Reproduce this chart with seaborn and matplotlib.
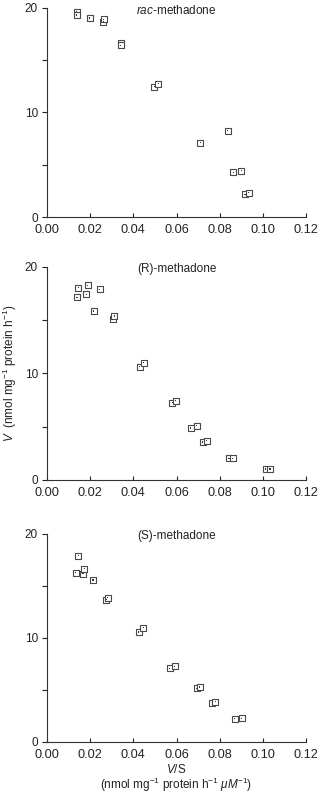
import matplotlib
matplotlib.use("Agg")
import matplotlib.pyplot as plt
import seaborn as sns
import pandas as pd
from matplotlib.ticker import MultipleLocator

sns.set_style("ticks")
plt.rcParams['font.family'] = ['Liberation Sans', 'DejaVu Sans']
plt.rcParams['mathtext.fontset'] = 'custom'
plt.rcParams['mathtext.rm'] = 'Liberation Sans'
plt.rcParams['mathtext.it'] = 'Liberation Sans:italic'

# rac-methadone
rac_vs = [0.0138, 0.0138, 0.0198, 0.0260, 0.0263, 0.0342, 0.0342, 0.0498, 0.0516,
          0.0711, 0.0837, 0.0863, 0.0900, 0.0917, 0.0934]
rac_v = [19.65, 19.33, 19.04, 18.70, 18.90, 16.66, 16.43, 12.48, 12.77,
         7.10, 8.25, 4.27, 4.43, 2.17, 2.32]

# (R)-methadone
r_vs = [0.0139, 0.0145, 0.0182, 0.0189, 0.0216, 0.0244, 0.0305, 0.0312, 0.0430, 0.0448,
        0.0581, 0.0597, 0.0665, 0.0694, 0.0721, 0.0739, 0.0843, 0.0860, 0.1013, 0.1033]
r_v = [17.13, 18.03, 17.41, 18.25, 15.84, 17.88, 15.06, 15.38, 10.63, 11.00,
       7.25, 7.44, 4.88, 5.09, 3.56, 3.69, 2.03, 2.03, 1.03, 1.03]

# (S)-methadone
s_vs = [0.0133, 0.0145, 0.0167, 0.0173, 0.0213, 0.0275, 0.0281, 0.0425, 0.0447,
        0.0569, 0.0591, 0.0693, 0.0707, 0.0765, 0.0779, 0.0869, 0.0903]
s_v = [16.25, 17.90, 16.15, 16.63, 15.55, 13.67, 13.86, 10.56, 10.97,
       7.06, 7.28, 5.15, 5.28, 3.78, 3.88, 2.23, 2.26]

titles = [r"$\it{rac}$-methadone", "(R)-methadone", "(S)-methadone"]
x_ticks = [0.00, 0.02, 0.04, 0.06, 0.08, 0.10, 0.12]
x_tick_labels = ["0.00", "0.02", "0.04", "0.06", "0.08", "0.10", "0.12"]
y_ticks = [0, 10, 20]

fig = plt.figure(figsize=(3.2, 7.93), dpi=100)
W, H = 320, 793
left, right = 47, 306
panels = [(8, 217), (266.7, 480), (533.7, 742)]
datasets = [(rac_vs, rac_v), (r_vs, r_v), (s_vs, s_v)]
TXT = '#222222'

axes = []
for (top, bot), (xs, ys), title in zip(panels, datasets, titles):
    ax = fig.add_axes([left / W, 1 - bot / H, (right - left) / W, (bot - top) / H])
    df = pd.DataFrame({"vs": xs, "v": ys})
    sns.scatterplot(data=df, x="vs", y="v", ax=ax, marker="s", s=18,
                    facecolor="white", edgecolor="#4a4a4a", linewidth=0.8,
                    zorder=3, clip_on=False)
    sns.scatterplot(data=df, x="vs", y="v", ax=ax, marker="s", s=0.7,
                    color="#333333", edgecolor="none", linewidth=0,
                    zorder=4, clip_on=False)
    ax.set_xlim(0, 0.12)
    ax.set_ylim(0, 20)
    ax.set_xticks(x_ticks)
    ax.set_xticklabels(x_tick_labels)
    ax.set_yticks(y_ticks)
    ax.yaxis.set_minor_locator(MultipleLocator(5))
    ax.tick_params(axis='x', direction='in', length=3, width=0.8, labelsize=9.2,
                   pad=5, colors=TXT)
    ax.tick_params(axis='y', which='both', direction='out', length=3.5, width=0.8,
                   labelsize=8.5, pad=3, colors=TXT)
    for sp in ['top', 'right']:
        ax.spines[sp].set_visible(False)
    for sp in ['left', 'bottom']:
        ax.spines[sp].set_linewidth(0.8)
        ax.spines[sp].set_color('#333333')
    ax.set_xlabel("")
    ax.set_ylabel("")
    ax.text(0.5, 0.99, title, transform=ax.transAxes, ha='center', va='center',
            fontsize=8.5, color=TXT)
    axes.append(ax)

fig.text(10 / W, 1 - 373.3 / H, r"$\it{V}$  (nmol mg$^{-1}$ protein h$^{-1}$)",
         rotation=90, ha='center', va='center', fontsize=8.5, color=TXT)
fig.text(176.5 / W, 1 - 769.5 / H, r"$\it{V}$/S", ha='center', va='center',
         fontsize=8.5, color=TXT)
fig.text(176.5 / W, 1 - 784.5 / H,
         r"(nmol mg$^{-1}$ protein h$^{-1}$ $\it{\mu}$$\mathregular{\it{M}}^{-1}$)",
         ha='center', va='center', fontsize=8.5, color=TXT)

fig.savefig("out.png", dpi=100)
